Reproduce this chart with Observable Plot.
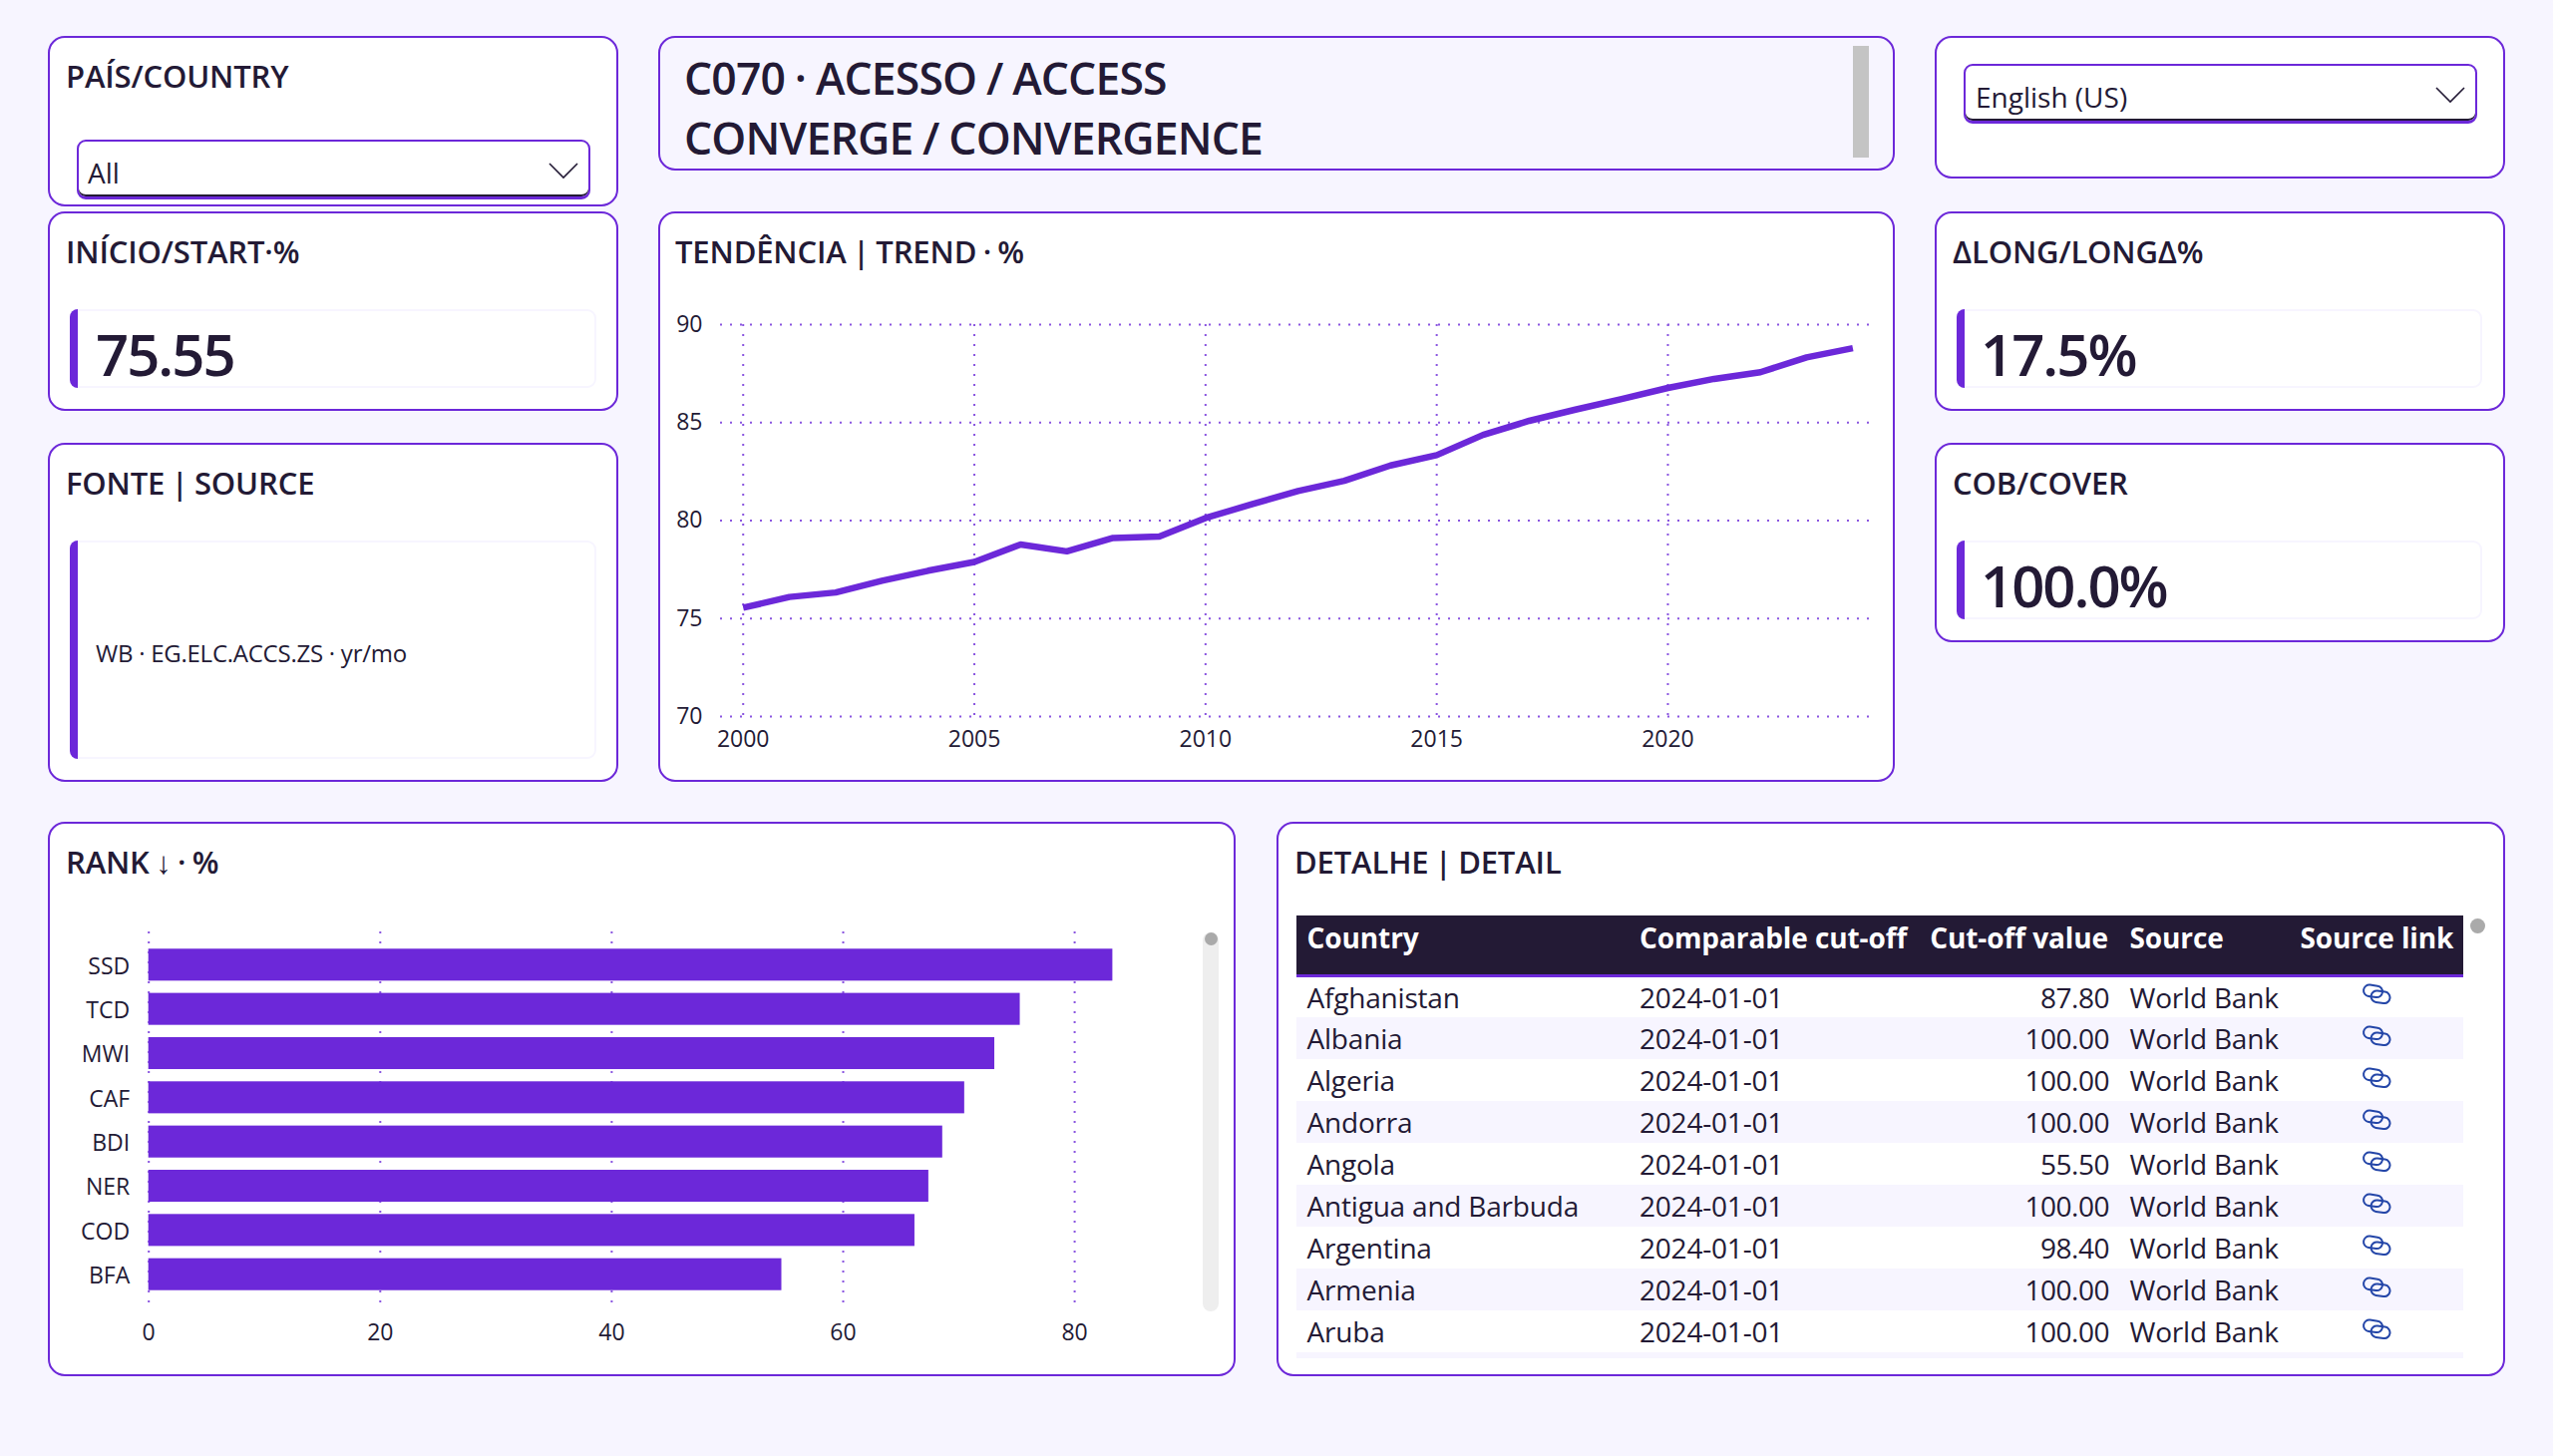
<!DOCTYPE html>
<html><head><meta charset="utf-8">
<script src="https://cdn.jsdelivr.net/npm/d3@7"></script>
<script src="https://cdn.jsdelivr.net/npm/@observablehq/plot@0.6"></script>
<style>
html,body{margin:0;padding:0;background:#f7f5ff;width:2560px;height:1460px;overflow:hidden}
body{position:relative;font-family:"Open Sans","Noto Sans",sans-serif;color:#231a35}
.panel{position:absolute;box-sizing:border-box;background:#fff;border:2px solid #6c28d9;border-radius:17px}
.abs{position:absolute}
.title{position:absolute;font-size:31px;font-weight:600;line-height:40px;white-space:nowrap;letter-spacing:-.15px;word-spacing:-1.5px}
.card{position:absolute;box-sizing:border-box;background:#fff;border:2px solid #f7f5ff;border-radius:9px}
.card i{position:absolute;left:-2px;top:-2px;bottom:-2px;width:8px;background:#6c28d9;border-radius:9px 0 0 9px}
.val{position:absolute;font-size:58px;font-weight:600;line-height:70px;white-space:nowrap;letter-spacing:-2px}
.slicer{position:absolute;box-sizing:border-box;background:#fff;border:2px solid #6c28d9;border-bottom-width:3px;border-radius:9px;box-shadow:inset 0 -2px 0 #231a35}
.sltext{position:absolute;font-size:28px;line-height:36px;white-space:nowrap}
table{border-collapse:collapse;table-layout:fixed;width:1170px;font-size:28px}
th{background:#231a35;color:#fff;text-align:left;font-weight:700;height:60px;line-height:36px;padding:0 0 14px 10.5px;border-bottom:3px solid #6c28d9;box-sizing:border-box;white-space:nowrap;letter-spacing:-.1px}
td{height:42px;line-height:36px;padding:0 0 0 10.5px;box-sizing:border-box;white-space:nowrap;letter-spacing:-.2px}
tr:nth-child(even) td{background:#f7f5ff}
td.r,th.r{text-align:right;padding:0 11px 0 0}
td.r{letter-spacing:-.5px;padding-right:10px}
th.r{padding-bottom:14px}
td.ic{text-align:center;padding:0}
td.ic svg{display:block;margin:-6px auto 0}
</style></head><body>
<script>
const ink = "#231a35", purple = "#6c28d9", gridColor = "#8a55e0";
const fontStack = '"Open Sans","Noto Sans",sans-serif';

// Trend
const years = [2000,2001,2002,2003,2004,2005,2006,2007,2008,2009,2010,2011,2012,2013,2014,2015,2016,2017,2018,2019,2020,2021,2022,2023,2024];
const trendValues = [75.55,76.1,76.33,76.93,77.44,77.89,78.78,78.43,79.11,79.19,80.13,80.83,81.51,82.03,82.81,83.34,84.37,85.09,85.66,86.2,86.77,87.23,87.57,88.33,88.8];
const trendXTicks = [2000,2005,2010,2015,2020];
const trendYTicks = [70,75,80,85,90];

// Rank
const rankCodes = ["SSD","TCD","MWI","CAF","BDI","NER","COD","BFA"];
const rankValues = [83.3,75.3,73.1,70.5,68.6,67.4,66.2,54.7];
const rankXTicks = [0,20,40,60,80];

// Table
const tableHeaders = ["Country","Comparable cut-off","Cut-off value","Source","Source link"];
const tableCountries = ["Afghanistan","Albania","Algeria","Andorra","Angola","Antigua and Barbuda","Argentina","Armenia","Aruba"];
const tableDates = ["2024-01-01","2024-01-01","2024-01-01","2024-01-01","2024-01-01","2024-01-01","2024-01-01","2024-01-01","2024-01-01"];
const tableValues = ["87.80","100.00","100.00","100.00","55.50","100.00","98.40","100.00","100.00"];
const tableSources = ["World Bank","World Bank","World Bank","World Bank","World Bank","World Bank","World Bank","World Bank","World Bank"];

// Panels: left, top, width, height
const panels = [[48,36,572,171],[48,212,572,200],[48,444,572,340],[660,36,1240,135],[660,212,1240,572],[1940,36,572,143],[1940,212,572,200],[1940,444,572,200],[48,824,1191,556],[1280,824,1232,556]];
function el(cls, css, html){const d=document.createElement("div");d.className=cls;d.style.cssText=css;if(html!=null)d.innerHTML=html;document.body.appendChild(d);return d;}
panels.forEach((p,i)=>el("panel",`left:${p[0]}px;top:${p[1]}px;width:${p[2]}px;height:${p[3]}px;${i===3?"background:#f7f5ff;":""}`));

const titles = [["PAÍS/COUNTRY",66,56],["INÍCIO/START·%",66,232],["FONTE | SOURCE",66,464],["TENDÊNCIA | TREND · %",677,232],["ΔLONG/LONGΔ%",1958,232],["COB/COVER",1958,464],["RANK ↓ · %",66,844],["DETALHE | DETAIL",1298,844]];
titles.forEach(t=>el("title",`left:${t[1]}px;top:${t[2]}px`,t[0]));

el("abs",`left:686px;top:48px;font-size:44.5px;font-weight:600;line-height:60px;white-space:nowrap;letter-spacing:-.85px;word-spacing:-1px`,"C070 · ACESSO / ACCESS<br>CONVERGE / CONVERGENCE");
el("abs","left:1858px;top:46px;width:16px;height:112px;background:#c4c4c4");

const cards = [[70,310,528,79,"75.55",96],[1962,310,527,79,"17.5%",1986],[1962,542,527,79,"100.0%",1986]];
cards.forEach(c=>{
  el("card",`left:${c[0]}px;top:${c[1]}px;width:${c[2]}px;height:${c[3]}px`,"<i></i>");
  el("val",`left:${c[5]}px;top:${c[1]+10}px`,c[4]);
});
el("card","left:70px;top:542px;width:528px;height:219px","<i></i>");
el("abs","left:96px;top:638px;font-size:24px;line-height:34px;font-weight:500;white-space:nowrap;letter-spacing:-.25px","WB · EG.ELC.ACCS.ZS · yr/mo");

const chevron = (x,y)=>`<svg style="position:absolute;left:${x}px;top:${y}px" width="30" height="17"><path d="M1 1 L15 15 L29 1" fill="none" stroke="${ink}" stroke-width="1.6"/></svg>`;
el("slicer","left:77px;top:140px;width:515px;height:60px");
el("sltext","left:88px;top:155px","All");
el("abs","left:0;top:0",chevron(550,163));
el("slicer","left:1969px;top:64px;width:515px;height:60px");
el("sltext","left:1981px;top:79px","English (US)");
el("abs","left:0;top:0",chevron(2442,87));

// Trend chart
const trendData = years.map((year,i)=>({year,value:trendValues[i]}));
const trend = Plot.plot({
  width:1240,height:480,marginLeft:62,marginRight:24.5,marginTop:35,marginBottom:52,
  style:{background:"transparent",fontFamily:fontStack},
  x:{domain:[1999.51,2024.39],axis:null},
  y:{domain:[70,90],axis:null},
  marks:[
    Plot.gridX(trendXTicks,{stroke:gridColor,strokeOpacity:1,strokeWidth:2,strokeDasharray:"2 8"}),
    Plot.gridY(trendYTicks,{stroke:gridColor,strokeOpacity:1,strokeWidth:2,strokeDasharray:"2 8"}),
    Plot.axisX(trendXTicks,{tickSize:0,tickPadding:14,fontSize:23,fill:ink,tickFormat:"d",label:null}),
    Plot.axisY(trendYTicks,{tickSize:0,tickPadding:18,fontSize:23,fill:ink,tickFormat:"d",label:null}),
    Plot.line(trendData,{x:"year",y:"value",stroke:purple,strokeWidth:6.5,strokeLinejoin:"round",strokeLinecap:"butt"})
  ]
});
const tw = el("abs","left:660px;top:289.5px;width:1240px;height:480px");tw.appendChild(trend);

// Rank chart
const rankData = rankCodes.map((code,i)=>({code,value:rankValues[i]}));
const rank = Plot.plot({
  width:1190,height:450,marginLeft:100.7,marginRight:40,marginTop:24,marginBottom:54,
  style:{background:"transparent",fontFamily:fontStack},
  x:{domain:[0,(1190-40-100.7)/11.605],range:[100.7,1150],axis:null},
  y:{domain:rankCodes,range:[29,396],padding:0.277,align:0.5,round:false,axis:null},
  marks:[
    Plot.gridX(rankXTicks,{stroke:gridColor,strokeOpacity:1,strokeWidth:2,strokeDasharray:"2 8"}),
    Plot.barX(rankData,{x:"value",y:"code",fill:purple}),
    Plot.axisX(rankXTicks,{tickSize:0,tickPadding:21,fontSize:23,fill:ink,tickFormat:"d",label:null}),
    Plot.axisY(rankCodes,{tickSize:0,tickPadding:19,fontSize:23,fill:ink,label:null,dy:1.5})
  ]
});
const rw = el("abs","left:48px;top:910px;width:1190px;height:450px");rw.appendChild(rank);
el("abs","left:1206px;top:935px;width:16px;height:380px;background:#eee;border-radius:8px");
el("abs","left:1208px;top:935px;width:13px;height:13px;background:#aaa;border-radius:7px");
el("abs","left:2477px;top:921px;width:15px;height:15px;background:#aaa;border-radius:8px");

// Table
const linkIcon = `<svg width="30" height="21" viewBox="0 0 30 21"><g fill="none" stroke="#2446a8" stroke-width="2"><rect x="2" y="2" width="19" height="11.5" rx="5.7" transform="rotate(8 11 8)"/><rect x="9.5" y="8" width="19" height="11.5" rx="5.7" transform="rotate(8 19 14)"/></g></svg>`;
const colW = [333.5,290.5,201,171,174];
let html = "<table><colgroup>"+colW.map(w=>`<col style="width:${w}px">`).join("")+"</colgroup><thead><tr>"+tableHeaders.map((h,i)=>`<th class="${i===2?"r":""}">${h}</th>`).join("")+"</tr></thead><tbody>";
tableCountries.forEach((c,i)=>{html+=`<tr><td>${c}</td><td>${tableDates[i]}</td><td class="r">${tableValues[i]}</td><td>${tableSources[i]}</td><td class="ic">${linkIcon}</td></tr>`;});
html+="</tbody></table>";
el("abs","left:1300px;top:918px;width:1170px",html);
el("abs","left:1300px;top:1356px;width:1170px;height:6px;background:#f7f5ff");
</script>
</body></html>
